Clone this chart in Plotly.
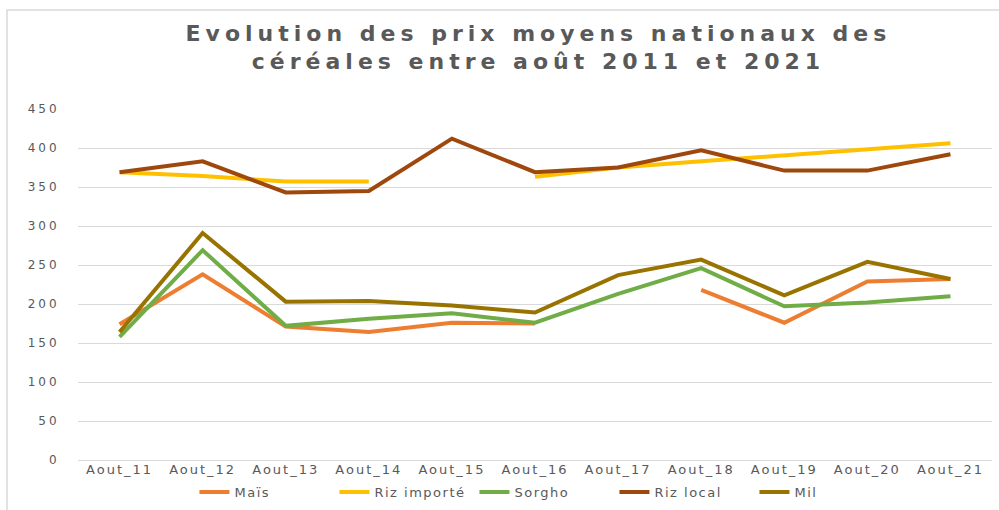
import plotly.graph_objects as go

# Prix moyens nationaux
mois = ["Aout_11", "Aout_12", "Aout_13", "Aout_14", "Aout_15", "Aout_16",
        "Aout_17", "Aout_18", "Aout_19", "Aout_20", "Aout_21"]
mais = [174, 238, 171, 164, 176, 175, None, 218, 176, 229, 232]
riz_importe = [369, 364, 357, 357, None, 363, 375, 383, 391, 399, 406]
sorgho = [158, 269, 172, 181, 188, 176, 213, 246, 197, 202, 210]
riz_local = [369, 383, 343, 345, 412, 369, 375, 397, 371, 371, 392]
mil = [164, 291, 203, 204, 198, 189, 237, 257, 211, 254, 232]

series = [
    ("Maïs", mais, "#ED7D31"),
    ("Riz importé", riz_importe, "#FFC000"),
    ("Sorgho", sorgho, "#70AD47"),
    ("Riz local", riz_local, "#9E480E"),
    ("Mil", mil, "#997300"),
]

GRAY = "#595959"
FONT = "DejaVu Sans"

fig = go.Figure()
for name, vals, color in series:
    fig.add_trace(go.Scatter(
        x=mois, y=vals, name=name, mode="lines",
        line=dict(color=color, width=4),
        connectgaps=False,
    ))

fig.update_layout(
    width=999, height=510,
    margin=dict(l=78, r=7, t=109, b=50),
    paper_bgcolor="white", plot_bgcolor="white",
    title=dict(
        text="<b>Evolution des prix moyens nationaux des<br>céréales entre août 2011 et 2021</b>",
        x=0.539, xanchor="center", y=0.92, yanchor="top",
        font=dict(family=FONT, size=22, color=GRAY),
    ),
    font=dict(family=FONT, size=12, color=GRAY),
    legend=dict(
        orientation="h", xref="container", yref="container",
        x=0.545, xanchor="center", y=0.035, yanchor="middle",
        font=dict(family=FONT, size=13, color=GRAY),
        entrywidth=95, entrywidthmode="pixels",
        traceorder="normal",
    ),
    showlegend=True,
)
fig.update_xaxes(
    range=[-0.5, 10.5], showgrid=False, showline=False, ticks="",
    automargin=False,
    tickfont=dict(family=FONT, size=13, color=GRAY),
)
fig.update_yaxes(
    range=[0, 450], dtick=50, showgrid=True, gridcolor="#D9D9D9", gridwidth=1,
    zeroline=True, zerolinecolor="#D9D9D9", zerolinewidth=1,
    showline=False, ticks="outside", ticklen=15, tickcolor="white",
    automargin=False,
    tickfont=dict(family=FONT, size=12, color=GRAY),
)

# cadre du graphique
fig.add_shape(
    type="rect", xref="paper", yref="paper",
    x0=-0.0777, x1=1.02, y0=-0.3, y1=1.282,
    line=dict(color="#D9D9D9", width=1.5), fillcolor="rgba(0,0,0,0)",
    layer="below",
)

# texte étiré comme sur l'original, page sans marge
css = """
var s = document.createElement('style');
s.innerHTML = 'body{margin:0;overflow:hidden}' +
  '.gtitle{letter-spacing:5px}' +
  '.xtick text{letter-spacing:2px}' +
  '.ytick text{letter-spacing:3px}' +
  '.legendtext{letter-spacing:1.5px}';
document.head.appendChild(s);
"""

fig.write_html("out.html", post_script=css, config={"displayModeBar": False})
